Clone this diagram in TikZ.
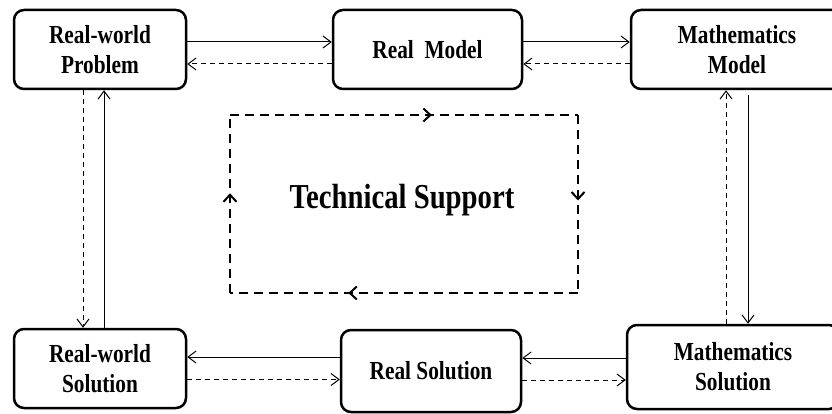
\documentclass[tikz,border=0pt]{standalone}
\usepackage{fontspec}
\setmainfont{Liberation Serif}[FakeStretch=0.82]
\usetikzlibrary{arrows.meta,decorations.markings}

\tikzset{
  box/.style={draw, line width=2.5pt, rounded corners=10pt, inner sep=0pt,
    align=center, font=\fontsize{26}{30}\selectfont\bfseries},
  flow/.style={-{Straight Barb[length=8pt,width=12pt]}, line width=1pt},
  back/.style={flow, dash pattern=on 5pt off 4pt},
  support/.style={line width=2pt, dash pattern=on 9pt off 6pt},
  tick/.style={postaction={decorate, decoration={markings,
    mark=at position #1 with {\arrow{Straight Barb[length=7pt,width=13pt,line width=2pt]}}}}}
}

\begin{document}
\begin{tikzpicture}[x=1pt, y=-1pt]
\useasboundingbox (0,0) rectangle (832,414);

\node[box, minimum width=172pt, minimum height=79pt] (prob) at (100,49.5) {Real-world\\Problem};
\node[box, minimum width=189pt, minimum height=79pt] (rmodel) at (427.5,49.5) {Real~ Model};
\node[box, minimum width=212pt, minimum height=79pt] (mmodel) at (737,49.5) {Mathematics\\Model};
\node[box, minimum width=172pt, minimum height=79pt] (wsol) at (100,368.5) {Real-world\\Solution};
\node[box, minimum width=180pt, minimum height=82pt] (rsol) at (431,371) {Real Solution};
\node[box, minimum width=212pt, minimum height=84pt] (msol) at (733,367) {Mathematics\\Solution};

% top row
\draw[flow] ([yshift=7.5pt]prob.east) coordinate (p1) -- (p1 -| rmodel.west);
\draw[back] ([yshift=-14.5pt]rmodel.west) coordinate (p2) -- (p2 -| prob.east);
\draw[flow] ([yshift=7.5pt]rmodel.east) coordinate (p3) -- (p3 -| mmodel.west);
\draw[back] ([yshift=-14.5pt]mmodel.west) coordinate (p4) -- (p4 -| rmodel.east);

% sides
\draw[back] ([xshift=-17pt]prob.south) coordinate (q1) -- (q1 |- wsol.north);
\draw[flow] ([xshift=4pt]wsol.north) coordinate (q2) -- (q2 |- prob.south);
\draw[flow] ([xshift=11pt,yshift=-5pt]mmodel.south) coordinate (q3) -- (q3 |- msol.north);
\draw[back] ([xshift=-11pt]mmodel.south) coordinate (q4) (q4 |- msol.north) -- (q4);

% bottom row
\draw[flow] ([yshift=14pt]rsol.west) coordinate (r1) -- (r1 -| wsol.east);
\draw[back] ([yshift=-11pt]wsol.east) coordinate (r2) -- (r2 -| rsol.west);
\draw[flow] ([yshift=9pt]msol.west) coordinate (r3) -- (r3 -| rsol.east);
\draw[back] ([yshift=-9pt]rsol.east) coordinate (r4) -- (r4 -| msol.west);

% support loop
\coordinate (s1) at (230,115);
\coordinate (s2) at (578,115);
\coordinate (s3) at (578,293);
\coordinate (s4) at (230,293);
\draw[support, tick=0.58] (s1) -- (s2);
\draw[support, tick=0.48] (s2) -- (s3);
\draw[support, tick=0.66] (s3) -- (s4);
\draw[support, tick=0.56] (s4) -- (s1);
\node[font=\fontsize{35}{40}\selectfont\bfseries] (tech) at (402,200) {Technical Support};
\end{tikzpicture}
\end{document}
